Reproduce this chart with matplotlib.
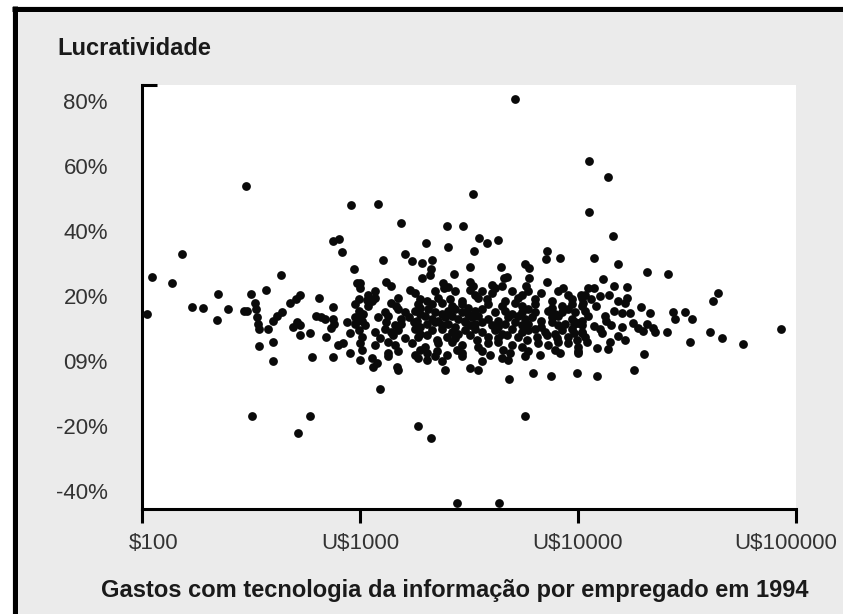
import matplotlib
matplotlib.use("Agg")
import matplotlib.pyplot as plt
from matplotlib.lines import Line2D
from matplotlib.patches import Rectangle
from matplotlib.ticker import NullLocator
from matplotlib.transforms import ScaledTranslation

plt.rcParams['font.family'] = ['Liberation Sans', 'DejaVu Sans']

# gasto com TI por empregado (US$) e lucratividade (%), lidos do grafico
# pontos esparsos a esquerda (ate ~US$1300)
gastos_esq = [105, 111, 138, 152, 170, 190, 223, 220, 248, 293,
              302, 300, 316, 370, 330, 338, 335, 340, 345, 345,
              400, 400, 380, 400, 415, 434, 440, 477, 508, 530,
              515, 530, 493, 530, 590, 650, 630, 660, 690, 750,
              750, 760, 740, 700, 600, 750, 790, 835, 900, 870,
              900, 960, 1000, 750, 800, 830, 910, 940, 970, 1000,
              1080, 1170, 1280, 1320, 320, 590, 520]
lucro_esq = [14.5, 26, 24, 33, 16.6, 16.3, 20.6, 12.6, 16, 15.5,
             15.5, 54, 20.6, 22, 18, 13.5, 16, 11.5, 10, 4.6,
             6, 0, 10, 12.5, 14, 26.5, 15, 18, 19, 20.3,
             12, 11, 10.5, 8, 8.6, 19.4, 14, 13.5, 13, 16.6,
             13, 11.4, 10.2, 7.4, 1.2, 1.2, 4.9, 5.5, 2.5, 12,
             8.6, 12, 14, 37, 37.5, 33.5, 48, 28.3, 24, 22.5,
             18.8, 19.4, 31, 24.3, -17, -17, -22]

# parte de cima, entre US$1000 e US$10000
gastos_topo = [5140, 3300, 1210, 1550, 2500, 2970, 2010, 2530, 3500, 3820,
               4300, 3330, 1610, 1730, 1920, 2150, 2110, 2100, 3200, 4450,
               5700, 5960, 7200, 7100, 8300, 2700, 1920, 4720, 2400, 4600,
               5960, 7200]
lucro_topo = [80.6, 51.4, 48.3, 42.5, 41.5, 41.5, 36.3, 35, 37.8, 36.3,
              37.2, 33.8, 33, 30.8, 30.2, 31, 28.3, 26.5, 29, 29,
              29.8, 28.6, 33.8, 31.4, 31.7, 26.8, 25.5, 26, 24, 25.5,
              25.5, 24.3]

# nuvem densa do meio, linha a linha
gastos_centro = [
    1000, 1390, 2520, 3200, 3300, 4030, 4460, 5800,
    1090, 1170, 1700, 1790, 2210, 2420, 2730, 3200, 3370, 3610, 4020, 4160, 4970, 5520, 5900, 6800, 8100, 8550, 9000, 10770,
    985, 1130, 1500, 1885, 2030, 2290, 2590, 2930, 3490, 3810, 4630, 5330, 6350, 7580, 9370, 10400,
    950, 1090, 1390, 1470, 1850, 1890, 2130, 2370, 2640, 2930, 3140, 3880, 4460, 5140, 5520, 6350, 7580, 8430, 9370, 10400,
    985, 1030, 1300, 1500, 1610, 1790, 1890, 2060, 2210, 2370, 2540, 2730, 2930, 3140, 3370, 3610, 4160, 4630, 4970, 5520, 5900, 6350, 7300, 7850, 8430, 9040, 9690,
    950, 1020, 1210, 1340, 1550, 1670, 1820, 1990, 2130, 2290, 2450, 2640, 2830, 3030, 3250, 3490, 3880, 4310, 4790, 5330, 5720, 6140, 6800, 7580, 8130, 9370, 10400,
    950, 1050, 1320, 1450, 1550, 1760, 1885, 2030, 2210, 2370, 2540, 2730, 3030, 3200, 3370, 3610, 4020, 4310, 4630, 5140, 5520, 5900, 6800, 7580, 8130, 8720, 9690, 10400,
    985, 1170, 1300, 1390, 1500, 1790, 1890, 2130, 2370, 2640, 2830, 3030, 3370, 3610, 4160, 4460, 4970, 5520, 5900, 6350, 7060, 7850, 8430, 9370, 10400,
    1020, 1235, 1420, 1610, 1850, 2030, 2250, 2500, 2730, 3200, 3430, 3880, 4310, 4710, 5330, 5820, 6460, 7180, 7990, 9040, 9870, 10770,
    1000, 1170, 1340, 1450, 1730, 1990, 2290, 2640, 2930, 3490, 3880, 4310, 4970, 5520, 6570, 7300, 8130, 9040, 10050,
    1020, 1340, 1500, 1790, 1890, 2030, 2250, 2500, 2780, 2930, 3610, 3950, 4550, 4880, 5900, 6700, 7850, 8270, 10050,
    1000, 1130, 1340, 1850, 2030, 2210, 2370, 2930, 3610, 4460, 4790, 5720,
    1150, 1200, 1480, 1490, 2450, 3200, 3480, 6200, 7500, 4800,
]
lucro_centro = [
    24, 23, 22.8, 24.5, 23, 23.5, 23, 23,
    20.5, 21.5, 22, 21, 21.5, 22.5, 21.5, 22, 20.5, 21.5, 21, 22.5, 21.5, 20.5, 21.5, 21, 21.5, 22.5, 20.5, 20.5,
    19, 18.5, 19.5, 19, 18.5, 19.5, 19, 18.5, 19.5, 19, 18.5, 19.5, 19, 18.5, 19, 19.5,
    17.5, 17, 18, 17, 17.5, 16.5, 17.5, 18, 17, 17.5, 16.5, 17.5, 17, 18, 17, 17.5, 16.5, 17, 17.5, 17,
    15.5, 14.5, 15, 16, 15, 15.5, 14.5, 16, 15, 14.5, 15.5, 16, 15, 14.5, 15.5, 16, 15, 15.5, 14.5, 15, 16, 15, 15.5, 14.5, 15, 16, 15,
    13.5, 12.5, 13.5, 14, 13, 13.5, 12.5, 14, 13, 12.5, 13.5, 14, 13, 12.5, 13.5, 14, 13, 12.5, 13.5, 14, 13, 13.5, 12.5, 13.5, 14, 13, 12.5,
    11.5, 11, 12, 11, 11.5, 12, 10.5, 11.5, 12, 11, 11.5, 10.5, 12, 11, 11.5, 12, 11, 10.5, 11.5, 12, 11, 11.5, 10.5, 12, 11, 11.5, 12, 11,
    9.5, 9, 10, 9, 9.5, 10, 8.5, 9.5, 10, 9, 8.5, 9.5, 10, 9, 9.5, 8.5, 10, 9, 9.5, 10, 9, 8.5, 9.5, 10, 9,
    7.5, 7, 8, 7, 7.5, 8, 6.5, 7.5, 7, 8, 6.5, 7.5, 7, 8, 7.5, 6.5, 7.5, 8, 7, 7.5, 6.5, 7.5,
    5.5, 5, 6, 5, 5.5, 4.5, 5.5, 6, 5, 4.5, 5.5, 6, 5, 4.5, 5.5, 5, 6, 5.5, 4.5,
    3.5, 2.5, 3, 2, 3.5, 2.5, 3, 2, 3.5, 2.5, 3, 2, 3.5, 2.5, 3, 2, 3.5, 2.5, 3,
    0.3, 1, 1.5, 1, 0.5, 1.5, 0, 1.5, 0, 1, 0.5, 1.5,
    -1.8, -0.6, -1.8, -2.8, -2.8, -2.2, -2.8, -3.7, -4.6, -5.5,
]

# acima de US$10000
gastos_dir = [11250, 13700, 11200, 14500, 11900, 15300, 20700, 25800, 43800, 41700,
              85000, 40200, 45600, 57000, 32700, 25500, 27300, 27900, 30800, 33300,
              19500, 21300, 17900, 18900, 19800, 20700, 22000, 22500, 15300, 20000,
              18000, 12200, 9900, 13700, 12200, 10000, 13000, 11100, 11900, 12600,
              14700, 16800, 10500, 12100, 15300, 16500, 16800, 15900, 14700, 11100,
              10000, 10400, 11900, 12900, 12600, 17300, 13500, 9600, 9600, 13300,
              14200, 16000, 10800, 11500, 13900, 10300, 14000, 16500, 11000]
lucro_dir = [61.5, 56.6, 45.8, 38.5, 31.7, 29.8, 27.4, 26.8, 21, 18.5,
             9.8, 8.9, 7.1, 5.2, 5.8, 8.9, 15, 12.9, 15, 12.9,
             16.6, 14.8, 11.7, 10.2, 9.2, 11.4, 10.2, 8.9, 7.7, 2.2,
             -2.8, -4.6, -3.7, 3.7, 4, 2.5, 25.2, 22.5, 22.5, 20,
             23, 22.8, 17.8, 17, 18.5, 17.8, 19.5, 14.8, 15.4, 13.8,
             11.7, 8.6, 10.8, 8.6, 9.8, 14.8, 12.5, 11.4, 8.6, 14,
             11, 10.5, 15.5, 19, 20.5, 20.5, 6, 6.5, 6]

# prejuizos isolados
gastos_baixo = [5700, 2780, 4350, 1850, 2110, 1230]
lucro_baixo = [-17, -43.7, -43.7, -20, -23.7, -8.5]

x_ticks = [100, 1000, 10000, 100000]
x_labels = ['$100', 'U$1000', 'U$10000', 'U$100000']
y_ticks = [80, 60, 40, 20, 0, -20, -40]
y_labels = ['80%', '60%', '40%', '20%', '09%', '-20%', '-40%']

W, H = 843, 614
fig = plt.figure(figsize=(W / 100, H / 100), dpi=100, facecolor='white')

# fundo cinza com traco preto em cima e a esquerda
fig.patches.append(Rectangle((12 / W, 0), 1 - 12 / W, 1 - 6 / H, transform=fig.transFigure,
                             facecolor='#ebebeb', edgecolor='none', zorder=-2))
fig.lines.append(Line2D([14.5 / W, 14.5 / W], [0, 1 - 6 / H], transform=fig.transFigure,
                        color='black', linewidth=3.6, solid_capstyle='butt', zorder=-1))
fig.lines.append(Line2D([12 / W, 1], [1 - 8.5 / H, 1 - 8.5 / H], transform=fig.transFigure,
                        color='black', linewidth=3.6, solid_capstyle='butt', zorder=-1))

ax = fig.add_axes([142 / W, 1 - 509 / H, (796 - 142) / W, (509 - 85) / H])
ax.set_facecolor('white')

for gx, ly in [(gastos_esq, lucro_esq), (gastos_topo, lucro_topo), (gastos_centro, lucro_centro),
               (gastos_dir, lucro_dir), (gastos_baixo, lucro_baixo)]:
    ax.scatter(gx, ly, s=40, color='#0a0a0a', linewidths=0, clip_on=False, zorder=3)

ax.set_xscale('log')
ax.set_xlim(100, 100000)
ax.set_ylim(-45.5, 85)

for side in ['top', 'right']:
    ax.spines[side].set_visible(False)
for side in ['left', 'bottom']:
    ax.spines[side].set_linewidth(2.2)
    ax.spines[side].set_color('black')

# eixo y: rotulos sem marca, marcas curtas para dentro
ax.set_yticks(y_ticks, y_labels)
ax.tick_params(axis='y', which='major', length=0, pad=24.5, labelsize=16, labelcolor='#333333')
ax.set_yticks([85, 60, 40, 20, 0, -20], minor=True)
ax.tick_params(axis='y', which='minor', direction='in', length=10.8, width=2.2, color='black')

# eixo x
ax.set_xticks(x_ticks, x_labels)
ax.xaxis.set_minor_locator(NullLocator())
ax.tick_params(axis='x', which='major', direction='out', length=10, width=2.2, color='black',
               pad=7, labelsize=16, labelcolor='#333333')
offsets = [12, 0, 0, -10]
for lbl, dx in zip(ax.get_xticklabels(), offsets):
    lbl.set_transform(lbl.get_transform() + ScaledTranslation(dx / 100, 0, fig.dpi_scale_trans))

fig.text(57 / W, 1 - 55 / H, 'Lucratividade', fontsize=17, fontweight='bold',
         color='#1a1a1a', ha='left', va='baseline')
fig.text(455 / W, 1 - 597 / H, 'Gastos com tecnologia da informação por empregado em 1994',
         fontsize=17, fontweight='bold', color='#1a1a1a', ha='center', va='baseline')

fig.savefig('out.png', dpi=100)
